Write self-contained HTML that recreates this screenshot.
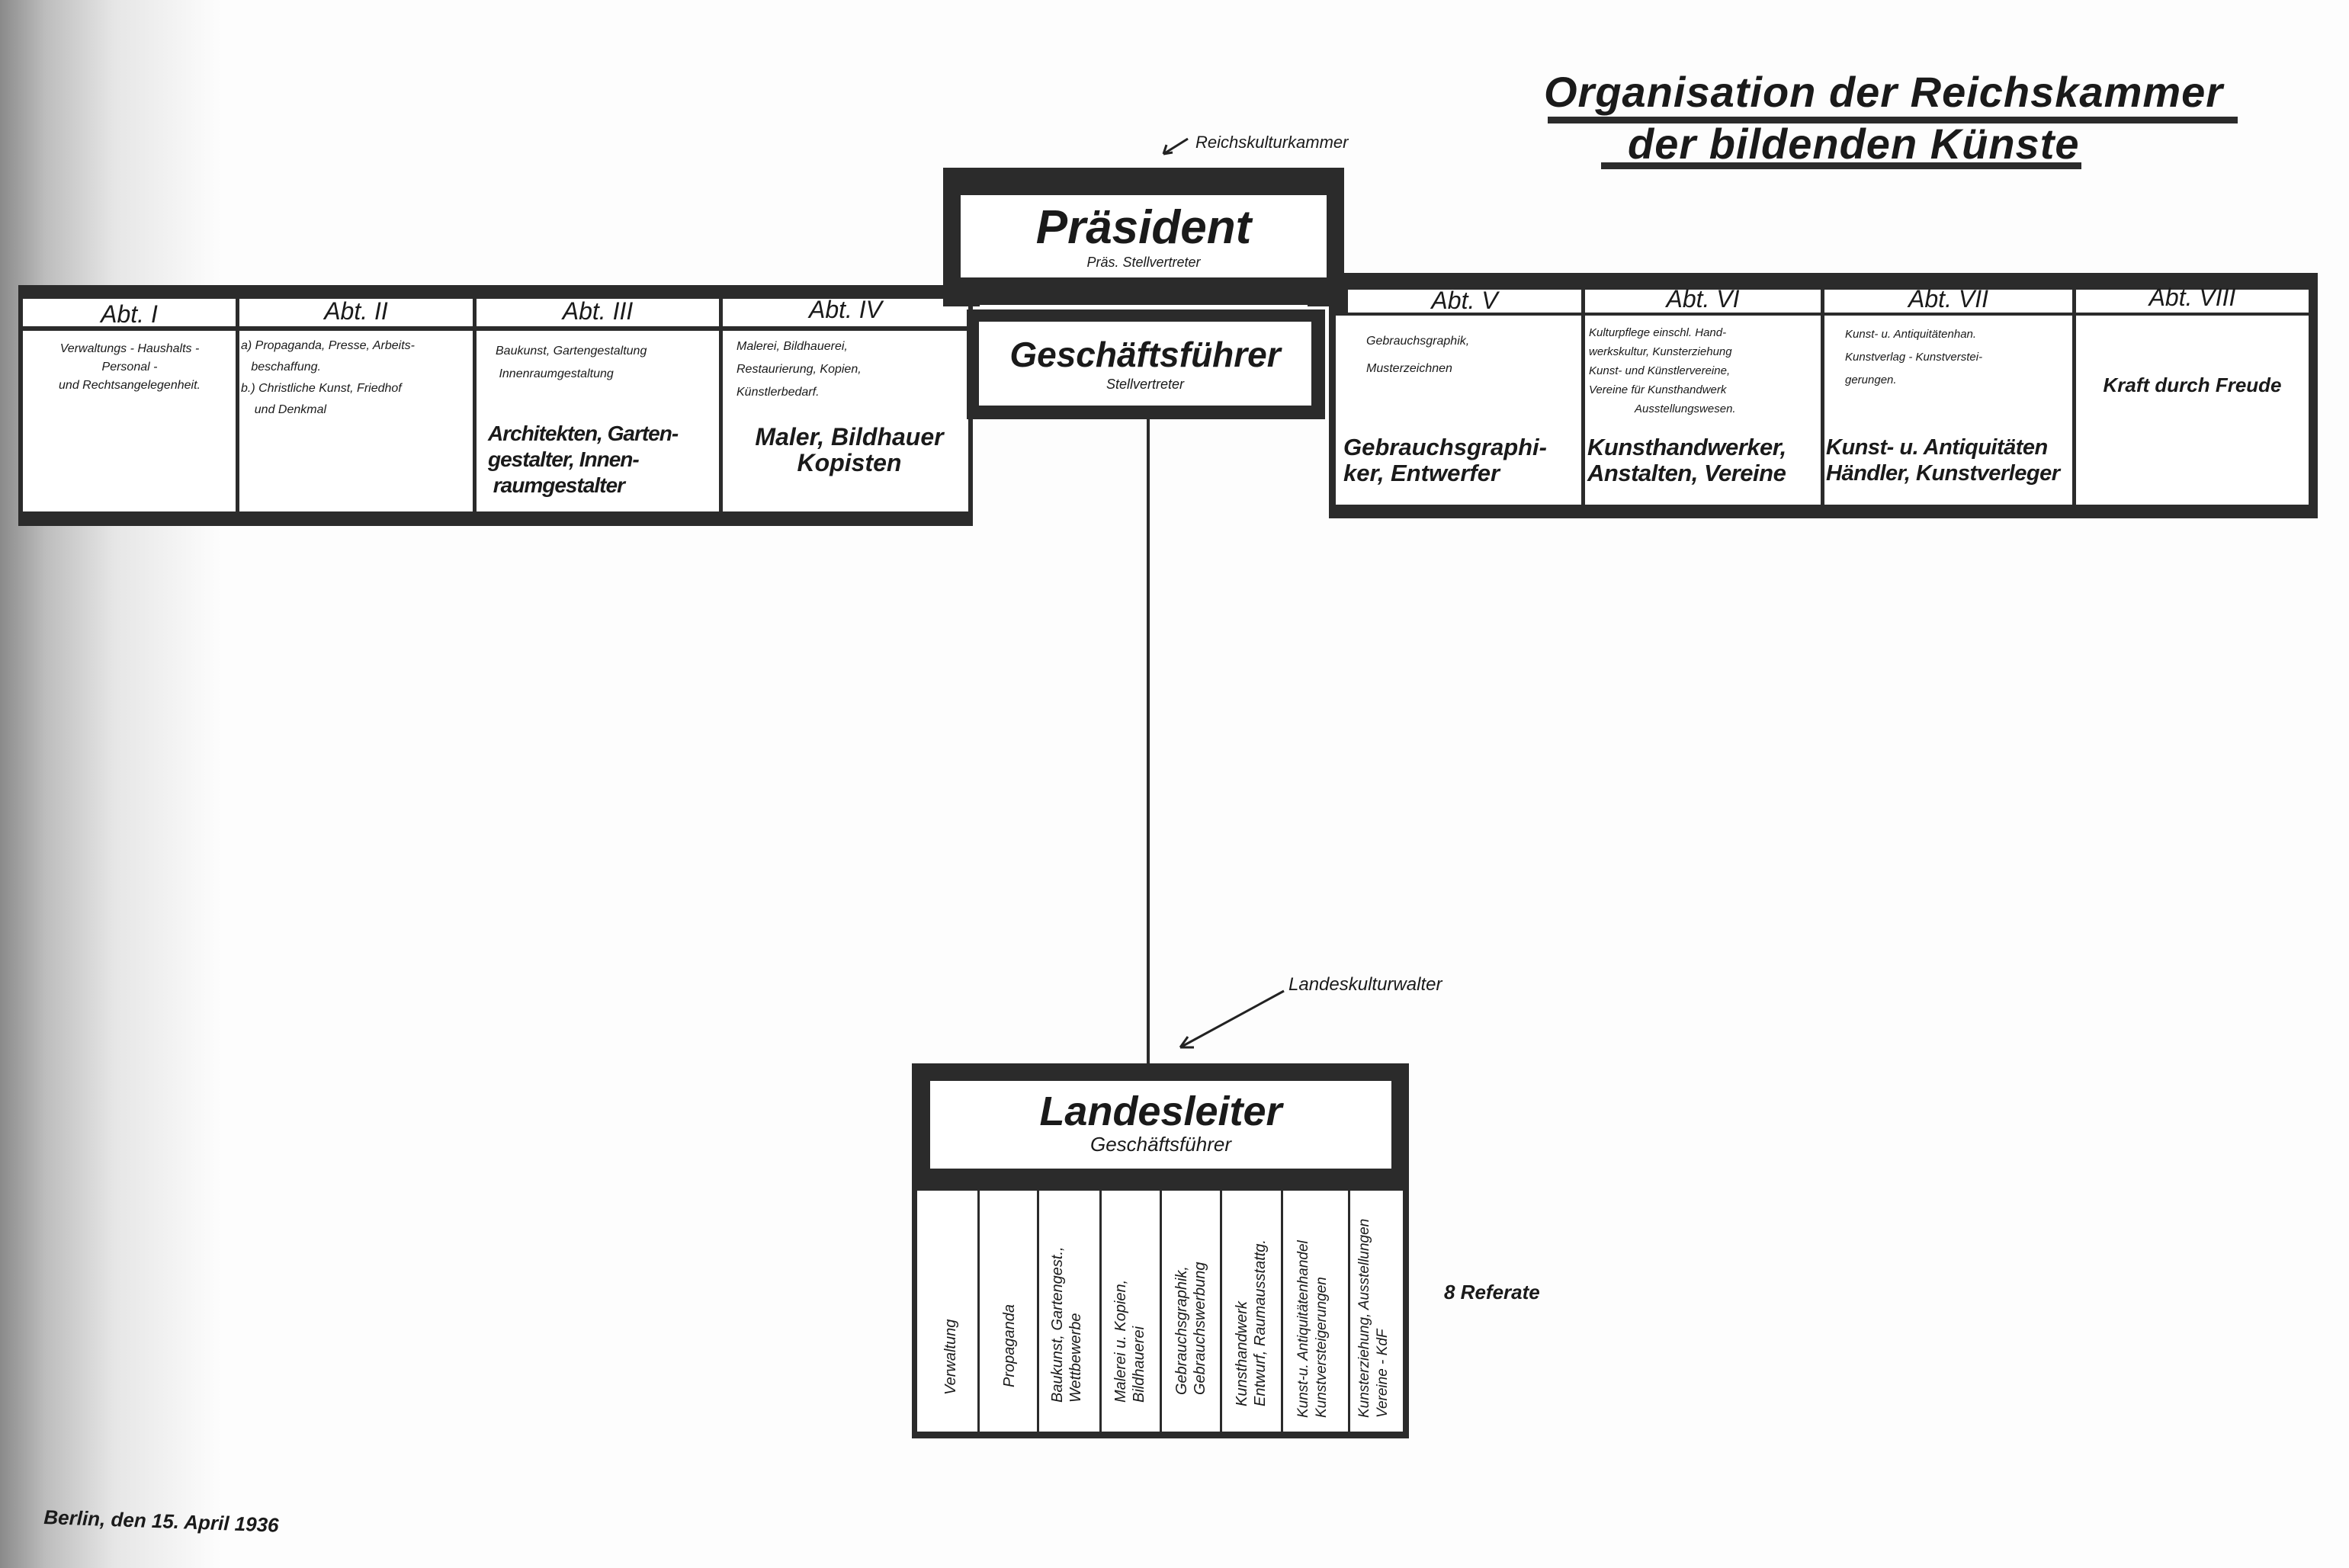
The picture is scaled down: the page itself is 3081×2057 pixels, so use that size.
<!DOCTYPE html>
<html><head><meta charset="utf-8">
<style>
html,body{margin:0;padding:0}
body{width:3081px;height:2057px;position:relative;overflow:hidden;background:#fdfdfd;font-family:"Liberation Sans",sans-serif;font-style:italic;font-weight:bold;color:#1a1a1a}
.a{position:absolute}
.shade{left:0;top:0;width:300px;height:2057px;background:linear-gradient(to right,#8a8a8a 0px,#bdbdbd 60px,#e6e6e6 150px,#fdfdfd 290px)}
.dark{background:#2b2b2b}
.w{background:#fff}
.c{text-align:center}
.hd{font-size:32px;font-weight:normal;text-align:center;line-height:40px}
.sm{font-size:16px;font-weight:normal;line-height:28px}
.big{font-size:32px;font-weight:bold;line-height:34px;white-space:nowrap}
.vt{writing-mode:vertical-rl;transform:rotate(180deg);font-size:20px;font-weight:normal;line-height:24px;text-align:left}
</style></head><body>
<div class="a shade"></div>

<!-- Title -->
<div class="a" style="left:2025px;top:88px;font-size:56px;font-weight:bold;letter-spacing:1px">Organisation der Reichskammer</div>
<div class="a dark" style="left:2030px;top:153px;width:905px;height:9px"></div>
<div class="a" style="left:2135px;top:156px;font-size:56px;font-weight:bold;letter-spacing:1px">der bildenden Künste</div>
<div class="a dark" style="left:2100px;top:213px;width:630px;height:9px"></div>

<!-- Reichskulturkammer -->
<div class="a" style="left:1568px;top:174px;font-size:22px;font-weight:normal">Reichskulturkammer</div>
<svg class="a" style="left:1510px;top:170px" width="60" height="40"><line x1="48" y1="12" x2="16" y2="32" stroke="#222" stroke-width="3"/><path d="M16 32 L20 20 M16 32 L28 30" stroke="#222" stroke-width="3" fill="none"/></svg>

<!-- Left band -->
<div class="a dark" style="left:24px;top:374px;width:1252px;height:316px"></div>
<div class="a w" style="left:30px;top:392px;width:1240px;height:36px"></div>
<div class="a w" style="left:30px;top:434px;width:1240px;height:237px"></div>
<div class="a dark" style="left:309px;top:390px;width:5px;height:284px"></div>
<div class="a dark" style="left:620px;top:390px;width:5px;height:284px"></div>
<div class="a dark" style="left:943px;top:390px;width:5px;height:284px"></div>
<div class="a hd" style="left:30px;top:392px;width:279px">Abt. I</div>
<div class="a hd" style="left:314px;top:388px;width:306px">Abt. II</div>
<div class="a hd" style="left:625px;top:388px;width:318px">Abt. III</div>
<div class="a hd" style="left:948px;top:386px;width:322px">Abt. IV</div>
<div class="a sm c" style="left:32px;top:446px;width:276px;line-height:24px">Verwaltungs - Haushalts -<br>Personal -<br>und Rechtsangelegenheit.</div>
<div class="a sm" style="left:316px;top:440px;width:304px">a) Propaganda, Presse, Arbeits-<br>&nbsp;&nbsp;&nbsp;beschaffung.<br>b.) Christliche Kunst, Friedhof<br>&nbsp;&nbsp;&nbsp;&nbsp;und Denkmal</div>
<div class="a sm" style="left:650px;top:446px;width:292px;line-height:30px">Baukunst, Gartengestaltung<br>&nbsp;Innenraumgestaltung</div>
<div class="a big" style="left:640px;top:552px;font-size:28px;letter-spacing:-1px">Architekten, Garten-<br>gestalter, Innen-<br>&nbsp;raumgestalter</div>
<div class="a sm" style="left:966px;top:440px;width:300px;line-height:30px">Malerei, Bildhauerei,<br>Restaurierung, Kopien,<br>Künstlerbedarf.</div>
<div class="a big" style="left:958px;top:556px;width:312px;text-align:center">Maler, Bildhauer<br>Kopisten</div>

<!-- Right band -->
<div class="a dark" style="left:1743px;top:358px;width:1297px;height:322px"></div>
<div class="a w" style="left:1768px;top:380px;width:1260px;height:30px"></div>
<div class="a w" style="left:1752px;top:414px;width:1276px;height:248px"></div>
<div class="a dark" style="left:2074px;top:375px;width:5px;height:290px"></div>
<div class="a dark" style="left:2388px;top:375px;width:5px;height:290px"></div>
<div class="a dark" style="left:2718px;top:375px;width:5px;height:290px"></div>
<div class="a hd" style="left:1768px;top:374px;width:306px">Abt. V</div>
<div class="a hd" style="left:2079px;top:372px;width:309px">Abt. VI</div>
<div class="a hd" style="left:2393px;top:372px;width:325px">Abt. VII</div>
<div class="a hd" style="left:2723px;top:370px;width:305px">Abt. VIII</div>
<div class="a sm" style="left:1792px;top:430px;width:280px;line-height:36px">Gebrauchsgraphik,<br>Musterzeichnen</div>
<div class="a big" style="left:1762px;top:570px;font-size:31px">Gebrauchsgraphi-<br>ker, Entwerfer</div>
<div class="a sm" style="left:2084px;top:424px;width:304px;font-size:15px;line-height:25px">Kulturpflege einschl. Hand-<br>werkskultur, Kunsterziehung<br>Kunst- und Künstlervereine,<br>Vereine für Kunsthandwerk<br><span style="padding-left:60px">Ausstellungswesen.</span></div>
<div class="a big" style="left:2082px;top:570px;font-size:31px;letter-spacing:-0.5px">Kunsthandwerker,<br>Anstalten, Vereine</div>
<div class="a sm" style="left:2420px;top:424px;width:296px;font-size:15px;line-height:30px">Kunst- u. Antiquitätenhan.<br>Kunstverlag - Kunstverstei-<br>gerungen.</div>
<div class="a big" style="left:2395px;top:570px;width:324px;font-size:29px;letter-spacing:-0.5px;overflow:hidden">Kunst- u. Antiquitäten<br>Händler, Kunstverleger</div>
<div class="a c" style="left:2723px;top:490px;width:305px;font-size:26px">Kraft durch Freude</div>

<!-- President -->
<div class="a dark" style="left:1237px;top:220px;width:526px;height:182px"></div>
<div class="a w" style="left:1260px;top:256px;width:480px;height:108px"></div>
<div class="a c" style="left:1260px;top:266px;width:480px;font-size:62px;line-height:66px">Präsident</div>
<div class="a c" style="left:1260px;top:334px;width:480px;font-size:18px;font-weight:normal">Präs. Stellvertreter</div>
<div class="a w" style="left:1285px;top:400px;width:430px;height:4px"></div>
<div class="a dark" style="left:1268px;top:406px;width:470px;height:144px"></div>
<div class="a w" style="left:1284px;top:422px;width:436px;height:110px"></div>
<div class="a c" style="left:1284px;top:440px;width:436px;font-size:46px;line-height:50px">Geschäftsführer</div>
<div class="a c" style="left:1284px;top:494px;width:436px;font-size:18px;font-weight:normal">Stellvertreter</div>

<!-- connector -->
<div class="a dark" style="left:1504px;top:548px;width:4px;height:856px"></div>

<!-- Landeskulturwalter -->
<div class="a" style="left:1690px;top:1278px;font-size:24px;font-weight:normal">Landeskulturwalter</div>
<svg class="a" style="left:1530px;top:1290px" width="170" height="100"><line x1="154" y1="10" x2="18" y2="84" stroke="#222" stroke-width="3"/><path d="M18 84 L28 70 M18 84 L36 84" stroke="#222" stroke-width="3" fill="none"/></svg>

<!-- Landesleiter -->
<div class="a dark" style="left:1196px;top:1395px;width:652px;height:492px"></div>
<div class="a w" style="left:1220px;top:1418px;width:605px;height:115px"></div>
<div class="a c" style="left:1220px;top:1428px;width:605px;font-size:54px;line-height:60px">Landesleiter</div>
<div class="a c" style="left:1220px;top:1486px;width:605px;font-size:26px;font-weight:normal">Geschäftsführer</div>
<div class="a w" style="left:1203px;top:1562px;width:637px;height:316px"></div>
<div class="a dark" style="left:1282px;top:1560px;width:3px;height:320px"></div>
<div class="a dark" style="left:1360px;top:1560px;width:3px;height:320px"></div>
<div class="a dark" style="left:1442px;top:1560px;width:3px;height:320px"></div>
<div class="a dark" style="left:1521px;top:1560px;width:3px;height:320px"></div>
<div class="a dark" style="left:1600px;top:1560px;width:3px;height:320px"></div>
<div class="a dark" style="left:1680px;top:1560px;width:3px;height:320px"></div>
<div class="a dark" style="left:1768px;top:1560px;width:3px;height:320px"></div>
<div class="a vt" style="left:1235px;top:1690px;height:140px">Verwaltung</div>
<div class="a vt" style="left:1312px;top:1660px;height:160px">Propaganda</div>
<div class="a vt" style="left:1375px;top:1600px;height:240px">Baukunst, Gartengest.,<br>Wettbewerbe</div>
<div class="a vt" style="left:1458px;top:1600px;height:240px">Malerei u. Kopien,<br>Bildhauerei</div>
<div class="a vt" style="left:1538px;top:1580px;height:250px">Gebrauchsgraphik,<br>Gebrauchswerbung</div>
<div class="a vt" style="left:1617px;top:1575px;height:270px">Kunsthandwerk<br>Entwurf, Raumausstattg.</div>
<div class="a vt" style="left:1698px;top:1570px;height:290px;font-size:19px">Kunst-u. Antiquitätenhandel<br>Kunstversteigerungen</div>
<div class="a vt" style="left:1778px;top:1565px;height:295px;font-size:19px">Kunsterziehung, Ausstellungen<br>Vereine - KdF</div>

<div class="a" style="left:1894px;top:1680px;font-size:26px">8 Referate</div>
<div class="a" style="left:58px;top:1975px;font-size:26px;transform:rotate(2deg);transform-origin:left top">Berlin, den 15. April 1936</div>
</body></html>
